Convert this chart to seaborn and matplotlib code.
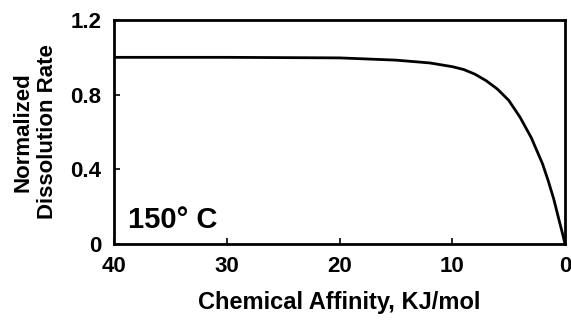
import numpy as np
import pandas as pd
import matplotlib
matplotlib.use("Agg")
import matplotlib.pyplot as plt
import seaborn as sns

# values
affinity = [40, 30, 20, 15, 12, 10, 9, 8, 7, 6, 5, 4, 3, 2.5, 2, 1.5, 1, 0.5, 0.2, 0]
rate = [1.0, 1.0, 0.997, 0.985, 0.97, 0.95, 0.935, 0.91, 0.875, 0.83, 0.77, 0.68, 0.57,
        0.50, 0.43, 0.34, 0.24, 0.12, 0.05, 0.0]

x_ticks = [40, 30, 20, 10, 0]
y_ticks = [0, 0.4, 0.8, 1.2]
y_tick_labels = ["0", "0.4", "0.8", "1.2"]

df = pd.DataFrame({"affinity": affinity, "rate": rate})

sns.set_style("ticks")
plt.rcParams["font.family"] = ["Liberation Sans", "DejaVu Sans"]
plt.rcParams["font.weight"] = "bold"
plt.rcParams["text.color"] = "black"
plt.rcParams["axes.labelcolor"] = "black"
plt.rcParams["xtick.color"] = "black"
plt.rcParams["ytick.color"] = "black"

fig = plt.figure(figsize=(5.71, 3.20), dpi=100)
ax = fig.add_axes([0.1996, 0.2375, 0.79, 0.7])

sns.lineplot(data=df, x="affinity", y="rate", ax=ax, color="black", linewidth=2)

ax.set_xlim(40, 0)
ax.set_ylim(0, 1.2)
ax.set_xticks(x_ticks)
ax.set_xticklabels([str(t) for t in x_ticks], fontsize=16, fontweight="bold")
ax.set_yticks(y_ticks)
ax.set_yticklabels(y_tick_labels, fontsize=16, fontweight="bold")
ax.tick_params(direction="in", length=4, width=1.2, pad=9)
for s in ax.spines.values():
    s.set_linewidth(2)
    s.set_color("black")

ax.set_xlabel("Chemical Affinity, KJ/mol", fontsize=17, fontweight="bold", labelpad=10)
ax.set_ylabel("Normalized\nDissolution Rate", fontsize=16, fontweight="bold", labelpad=9,
              linespacing=1.2)
ax.text(0.03, 0.07, "150° C", transform=ax.transAxes, fontsize=21, fontweight="bold",
        ha="left", va="baseline")

fig.savefig("out.png", dpi=100)
